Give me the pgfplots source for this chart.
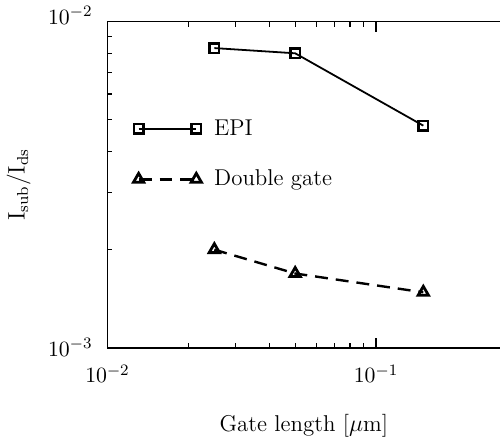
\documentclass[border=0pt]{standalone}
\usepackage{pgfplots}
\pgfplotsset{compat=1.18}

\begin{document}
\begin{tikzpicture}
\begin{loglogaxis}[
    scale only axis,
    width=197.5pt, height=164pt,
    xmin=0.01, xmax=0.29,
    ymin=1e-3, ymax=1e-2,
    xtick={0.01,0.1}, ytick={0.001,0.01},
    yticklabels={$10^{-3}$,{}},
    extra y ticks={0.01},
    extra y tick labels={$10^{-2}$},
    extra y tick style={major tick length=0pt, yticklabel style={yshift=3pt}},
    axis x line=box, axis y line=left,
    axis line style={-, line width=0.8pt},
    tick align=inside,
    major tick length=5pt, minor tick length=2.5pt,
    tick style={line width=0.6pt, black},
    every tick label/.append style={font=\fontsize{11}{13}\selectfont},
    xticklabel shift=5pt, yticklabel shift=4pt,
    xlabel={Gate length [$\mu$m]},
    ylabel={$\mathrm{I_{sub}/I_{ds}}$},
    label style={font=\fontsize{11.5}{13}\selectfont},
    xlabel shift=9pt, ylabel shift=-6pt,
    legend image code/.code={%
        \path[draw=none] (0pt,0pt) -- (36pt,0pt);
        \draw[mark repeat=2,mark phase=1,#1] plot coordinates {(0pt,0pt) (14.5pt,0pt) (29pt,0pt)};},
    legend style={at={(rel axis cs:0.05,0.594)}, anchor=west, draw=none, fill=none,
        font=\fontsize{11.5}{13}\selectfont, row sep=12pt},
    legend cell align=left,
]
\addplot[black, line width=0.9pt, mark=square, mark size=2.4pt,
    mark options={solid, fill=white, line width=1.2pt}] coordinates {
    (0.025, 8.3e-3) (0.05, 8.0e-3) (0.15, 4.8e-3)
};
\addlegendentry{EPI}
\addplot[black, line width=1.2pt, dash pattern=on 6.5pt off 4pt, mark=triangle, mark size=3pt,
    mark options={solid, fill=white, line width=1.4pt}] coordinates {
    (0.025, 2.0e-3) (0.05, 1.69e-3) (0.15, 1.48e-3)
};
\addlegendentry{Double gate}
\end{loglogaxis}
\end{tikzpicture}
\end{document}
